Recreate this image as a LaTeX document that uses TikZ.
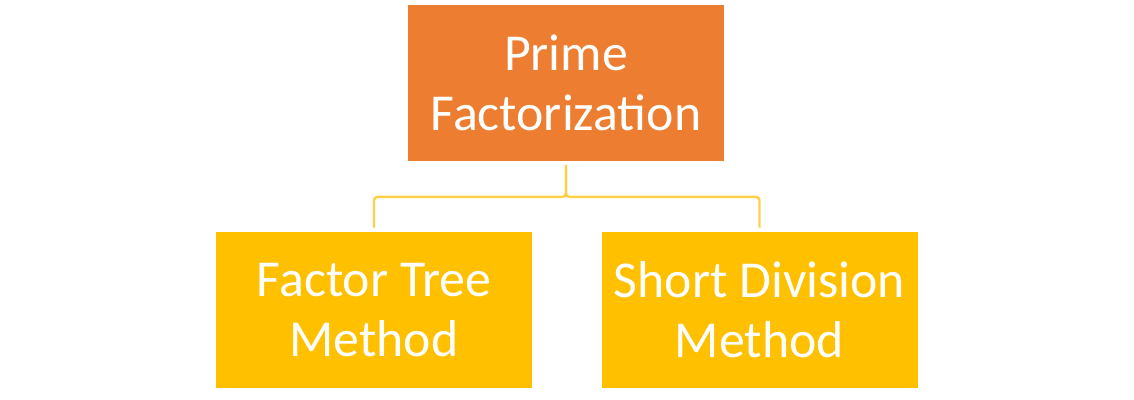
\documentclass[tikz,border=0pt]{standalone}
\usepackage{fontspec}
\setmainfont{Carlito}
\usetikzlibrary{positioning}
\definecolor{primeorange}{HTML}{ED7D31}
\definecolor{methodgold}{HTML}{FFC000}
\definecolor{linkgold}{HTML}{FFCF4A}

\begin{document}
\begin{tikzpicture}[
		box/.style={minimum width=6.32cm, minimum height=3.12cm, inner sep=0pt,
			text=white, align=center, font=\fontsize{29.5}{34}\selectfont},
		root/.style={box, fill=primeorange},
		method/.style={box, fill=methodgold},
		link/.style={draw=linkgold, line width=1.4pt, rounded corners=2pt}
	]
		\useasboundingbox (0,0) rectangle (22.68,-8);
		\node[root] (prime) at (11.32,-1.66) {Prime\\Factorization};
		\node[method] (tree) at (7.48,-6.2) {Factor Tree\\Method};
		\node[method] (division) at (15.19,-6.2) {Short Division\\Method};
		\coordinate (fork) at ([yshift=-0.07cm]prime.south);
		\draw[link] (fork) -- ++(0,-0.64) -| ([yshift=0.08cm]tree.north);
		\draw[link] (fork) -- ++(0,-0.64) -| ([yshift=0.08cm]division.north);
\end{tikzpicture}
\end{document}
